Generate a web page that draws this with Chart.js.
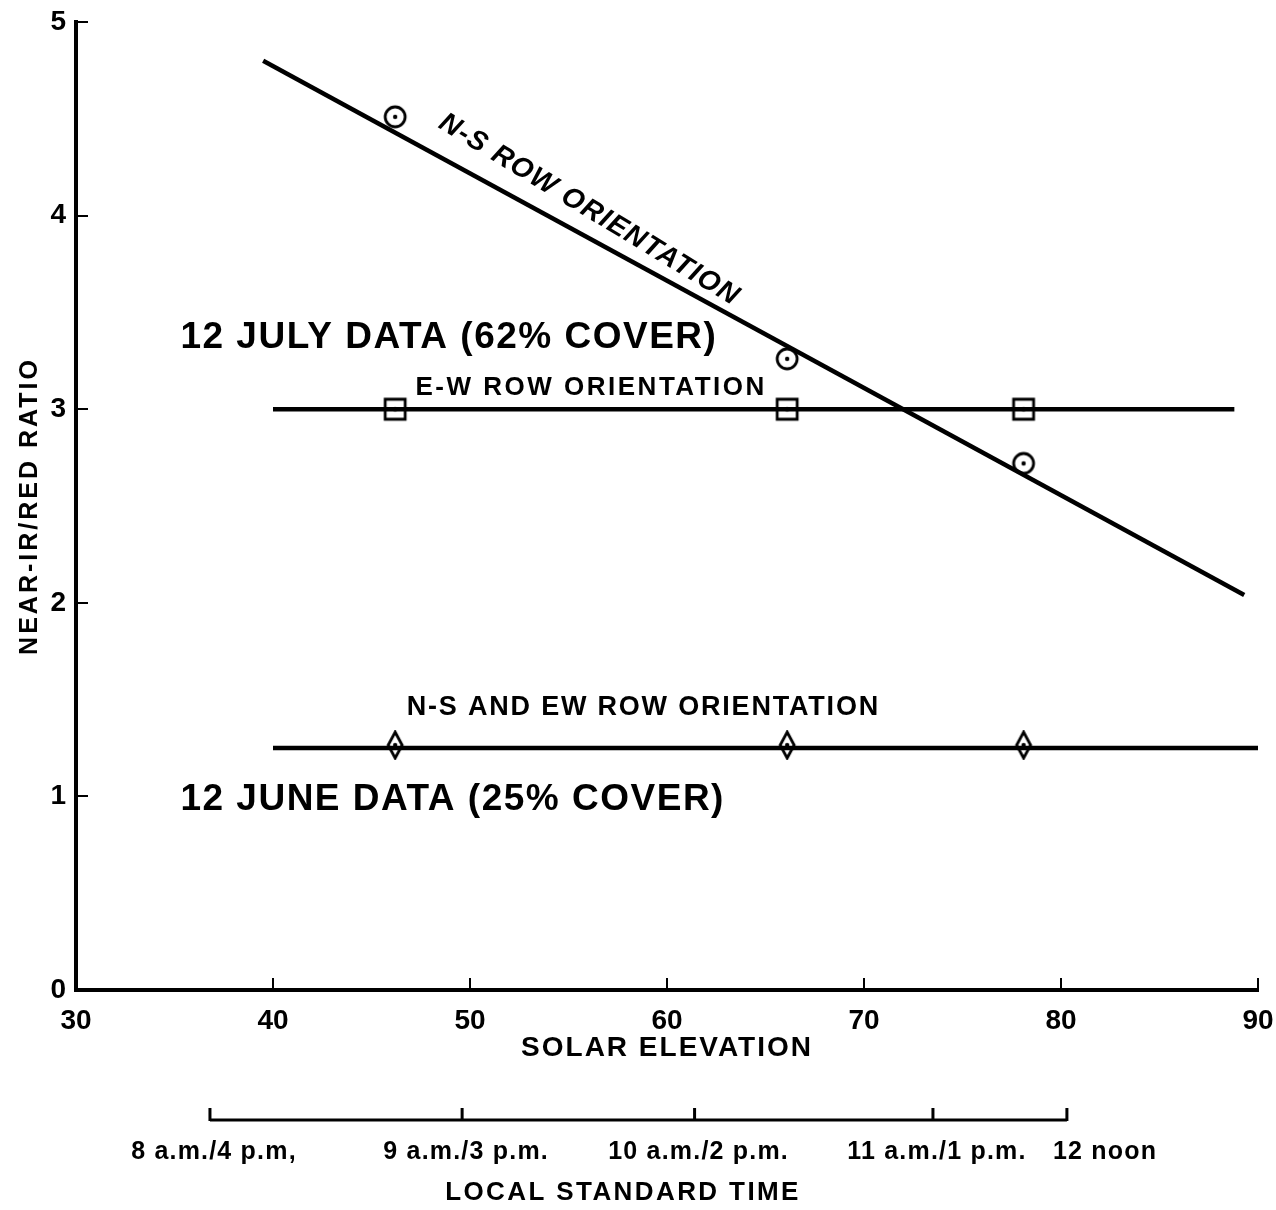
<!DOCTYPE html>
<html>
<head>
    <title>Near-IR/Red ratio vs solar elevation</title>
    <script src="https://cdn.jsdelivr.net/npm/chart.js"></script>
    <style>
        html, body { margin: 0; padding: 0; background: #fff; }
        .chart-container { width: 1276px; height: 1210px; position: relative; }
    </style>
</head>
<body>
    <div class="chart-container">
        <canvas id="ratioChart"></canvas>
    </div>

    <script>
        // measured points (solar elevation, degrees)
        const elevation = [46.2, 66.1, 78.1];
        const julyNS = [4.51, 3.26, 2.72];
        const julyEW = [3.0, 3.0, 3.0];
        const juneBoth = [1.265, 1.265, 1.265];

        // fitted lines (end points)
        const nsFitX = [39.5, 89.3];
        const nsFitY = [4.80, 2.04];
        const ewFitX = [40, 88.8];
        const ewFitY = [3.0, 3.0];
        const juneFitX = [40, 90];
        const juneFitY = [1.25, 1.25];

        // local standard time scale, placed on the solar elevation axis
        const timeTickAt = [36.8, 49.6, 61.4, 73.5, 80.3];
        const timeLabels = ['8 a.m./4 p.m,', '9 a.m./3 p.m.', '10 a.m./2 p.m.', '11 a.m./1 p.m.', '12 noon'];

        const FONT = "'Liberation Sans', Arial, Helvetica, sans-serif";

        function pts(xs, ys) {
            return xs.map((x, i) => ({ x: x, y: ys[i] }));
        }

        // hollow markers with a dot in the middle
        function marker(kind) {
            const c = document.createElement('canvas');
            const w = kind === 'diamond' ? 20 : 26;
            const h = kind === 'diamond' ? 30 : 26;
            c.width = w; c.height = h;
            const g = c.getContext('2d');
            g.fillStyle = '#fff';
            g.strokeStyle = '#000';
            g.lineWidth = 2.8;
            g.beginPath();
            if (kind === 'circle') {
                g.arc(w / 2, h / 2, 10, 0, Math.PI * 2);
            } else if (kind === 'square') {
                g.rect(3, 3, 20, 20);
            } else {
                g.moveTo(w / 2, 2); g.lineTo(w - 3, h / 2);
                g.lineTo(w / 2, h - 2); g.lineTo(3, h / 2); g.closePath();
            }
            g.fill(); g.stroke();
            g.fillStyle = '#000';
            g.beginPath();
            g.arc(w / 2, h / 2, 2.2, 0, Math.PI * 2);
            g.fill();
            return c;
        }

        function label(ctx, str, x, y, size, spacing, align, style) {
            ctx.font = (style || 'bold') + ' ' + size + 'px ' + FONT;
            ctx.letterSpacing = spacing + 'px';
            ctx.textAlign = align;
            ctx.fillText(str, x, y);
        }

        const annotations = {
            id: 'annotations',
            afterDatasetsDraw(chart) {
                const ctx = chart.ctx;
                const xs = chart.scales.x, ys = chart.scales.y;
                ctx.save();
                ctx.fillStyle = '#000';
                ctx.textBaseline = 'middle';

                label(ctx, '12 JULY DATA (62% COVER)', xs.getPixelForValue(35.3), ys.getPixelForValue(3.37), 37, 1.5, 'left');
                label(ctx, '12 JUNE DATA (25% COVER)', xs.getPixelForValue(35.3), ys.getPixelForValue(0.98), 37, 1.5, 'left');
                label(ctx, 'E-W ROW ORIENTATION', xs.getPixelForValue(56.15), ys.getPixelForValue(3.11), 26, 2.5, 'center');
                label(ctx, 'N-S AND EW ROW ORIENTATION', xs.getPixelForValue(58.8), ys.getPixelForValue(1.457), 27, 1.8, 'center');

                // label along the N-S line
                const x0 = xs.getPixelForValue(nsFitX[0]), y0 = ys.getPixelForValue(nsFitY[0]);
                const x1 = xs.getPixelForValue(nsFitX[1]), y1 = ys.getPixelForValue(nsFitY[1]);
                const ang = Math.atan2(y1 - y0, x1 - x0) + 0.045;
                ctx.translate(xs.getPixelForValue(56.05), ys.getPixelForValue(4.03));
                ctx.rotate(ang);
                label(ctx, 'N-S ROW ORIENTATION', 0, 0, 28, 1.3, 'center', 'italic bold');
                ctx.restore();
            },
            afterDraw(chart) {
                const ctx = chart.ctx;
                const xs = chart.scales.x, ys = chart.scales.y;
                ctx.save();
                ctx.fillStyle = '#000';
                ctx.textBaseline = 'middle';

                // axis titles
                label(ctx, 'SOLAR ELEVATION', (xs.left + xs.right) / 2, 1048, 28, 2, 'center');
                ctx.save();
                ctx.translate(30, (ys.top + ys.bottom) / 2);
                ctx.rotate(-Math.PI / 2);
                label(ctx, 'NEAR-IR/RED RATIO', 0, 0, 25, 3, 'center');
                ctx.restore();

                // local standard time scale
                const yLine = 1120;
                const px = timeTickAt.map(v => xs.getPixelForValue(v));
                ctx.strokeStyle = '#000';
                ctx.lineWidth = 3;
                ctx.beginPath();
                ctx.moveTo(px[0], yLine);
                ctx.lineTo(px[px.length - 1], yLine);
                px.forEach(p => { ctx.moveTo(p, yLine + 1); ctx.lineTo(p, yLine - 12); });
                ctx.stroke();

                timeLabels.forEach((t, i) => {
                    if (i === timeLabels.length - 1) {
                        label(ctx, t, px[i] - 14, 1152, 25, 1.2, 'left');
                    } else {
                        label(ctx, t, px[i] + 4, 1152, 25, 1.2, 'center');
                    }
                });
                label(ctx, 'LOCAL STANDARD TIME', 623, 1193, 26, 2.4, 'center');
                ctx.restore();
            }
        };

        const lineStyle = { showLine: true, borderColor: '#000', borderWidth: 4.5, pointRadius: 0, fill: false };
        const dotStyle = { showLine: false, pointRadius: 11, borderColor: '#000', backgroundColor: '#fff' };

        const ctx = document.getElementById('ratioChart').getContext('2d');
        const ratioChart = new Chart(ctx, {
            type: 'scatter',
            data: {
                datasets: [
                    Object.assign({ label: 'N-S fit (July)', data: pts(nsFitX, nsFitY) }, lineStyle),
                    Object.assign({ label: 'E-W fit (July)', data: pts(ewFitX, ewFitY) }, lineStyle),
                    Object.assign({ label: 'N-S and E-W fit (June)', data: pts(juneFitX, juneFitY) }, lineStyle),
                    Object.assign({ label: 'N-S (July)', data: pts(elevation, julyNS), pointStyle: marker('circle') }, dotStyle),
                    Object.assign({ label: 'E-W (July)', data: pts(elevation, julyEW), pointStyle: marker('square') }, dotStyle),
                    Object.assign({ label: 'June', data: pts(elevation, juneBoth), pointStyle: marker('diamond') }, dotStyle)
                ]
            },
            options: {
                responsive: true,
                maintainAspectRatio: false,
                animation: false,
                layout: { padding: { top: 22, right: 18, left: 0, bottom: 0 } },
                plugins: {
                    legend: { display: false },
                    tooltip: { enabled: false }
                },
                scales: {
                    x: {
                        type: 'linear',
                        min: 30,
                        max: 90,
                        ticks: { stepSize: 10, color: '#000', padding: 26, maxRotation: 0,
                                 font: { family: FONT, size: 28, weight: 'bold' } },
                        grid: { drawOnChartArea: false, drawTicks: true, tickLength: -12, color: '#000', lineWidth: 2 },
                        border: { color: '#000', width: 4 },
                        title: { display: false, text: 'SOLAR ELEVATION' },
                        afterFit(s) { s.height = 220; s.paddingLeft = 0; s.paddingRight = 0; }
                    },
                    y: {
                        min: 0,
                        max: 5,
                        ticks: { stepSize: 1, color: '#000', padding: 22,
                                 font: { family: FONT, size: 28, weight: 'bold' } },
                        grid: { drawOnChartArea: false, drawTicks: true, tickLength: -12, color: '#000', lineWidth: 2 },
                        border: { color: '#000', width: 4 },
                        title: { display: false, text: 'NEAR-IR/RED RATIO' },
                        afterFit(s) { s.width = 76; s.paddingTop = 0; s.paddingBottom = 0; }
                    }
                }
            },
            plugins: [annotations]
        });
    </script>
</body>
</html>
